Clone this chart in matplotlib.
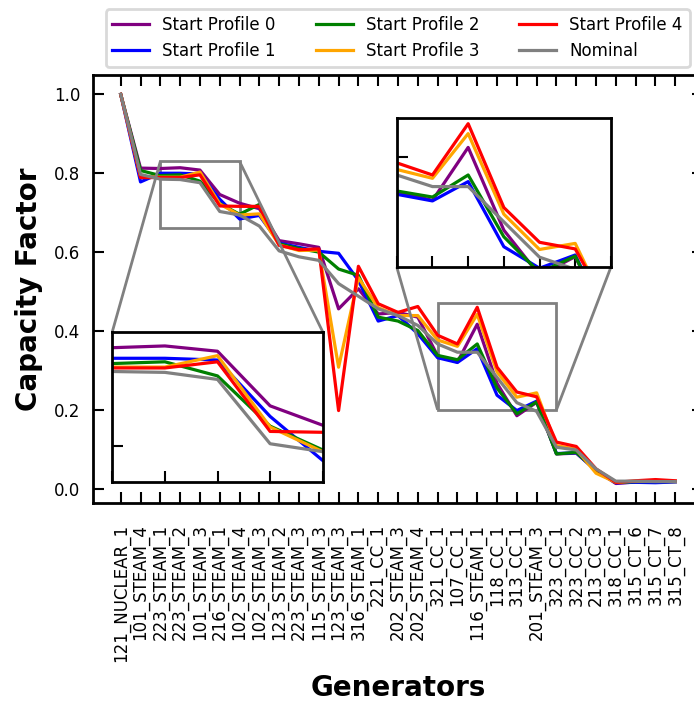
import numpy as np
import matplotlib
matplotlib.use("Agg")
import matplotlib.pyplot as plt
from mpl_toolkits.axes_grid1.inset_locator import mark_inset

generators = [
    "121_NUCLEAR_1", "101_STEAM_4", "223_STEAM_1", "223_STEAM_2", "101_STEAM_3",
    "216_STEAM_1", "102_STEAM_4", "102_STEAM_3", "123_STEAM_2", "223_STEAM_3",
    "115_STEAM_3", "123_STEAM_3", "316_STEAM_1", "221_CC_1", "202_STEAM_3",
    "202_STEAM_4", "321_CC_1", "107_CC_1", "116_STEAM_1", "118_CC_1",
    "313_CC_1", "201_STEAM_3", "323_CC_1", "323_CC_2", "213_CC_3",
    "318_CC_1", "315_CT_6", "315_CT_7", "315_CT_8",
]

# capacity factor per generator for each start profile
profile_0 = [1.0, 0.813, 0.812, 0.814, 0.808, 0.746, 0.724, 0.710, 0.629, 0.621,
             0.612, 0.456, 0.507, 0.443, 0.447, 0.435, 0.337, 0.321, 0.417, 0.267,
             0.185, 0.219, 0.088, 0.090, 0.046, 0.013, 0.017, 0.017, 0.018]
profile_1 = [1.0, 0.778, 0.800, 0.800, 0.798, 0.734, 0.684, 0.693, 0.623, 0.612,
             0.602, 0.597, 0.528, 0.425, 0.439, 0.393, 0.332, 0.320, 0.355, 0.237,
             0.198, 0.222, 0.089, 0.091, 0.046, 0.015, 0.016, 0.015, 0.017]
profile_2 = [1.0, 0.807, 0.794, 0.796, 0.780, 0.723, 0.696, 0.721, 0.621, 0.609,
             0.600, 0.557, 0.541, 0.435, 0.425, 0.401, 0.338, 0.327, 0.367, 0.255,
             0.190, 0.220, 0.088, 0.092, 0.046, 0.016, 0.018, 0.018, 0.018]
profile_3 = [1.0, 0.792, 0.790, 0.790, 0.803, 0.722, 0.694, 0.697, 0.618, 0.604,
             0.605, 0.308, 0.535, 0.459, 0.439, 0.439, 0.377, 0.361, 0.442, 0.296,
             0.232, 0.243, 0.109, 0.100, 0.039, 0.016, 0.019, 0.019, 0.018]
profile_4 = [1.0, 0.789, 0.789, 0.789, 0.796, 0.717, 0.716, 0.716, 0.617, 0.606,
             0.608, 0.198, 0.564, 0.469, 0.447, 0.462, 0.389, 0.367, 0.460, 0.308,
             0.245, 0.233, 0.118, 0.107, 0.050, 0.016, 0.020, 0.023, 0.020]
nominal = [1.0, 0.797, 0.785, 0.784, 0.776, 0.703, 0.694, 0.666, 0.603, 0.588,
           0.579, 0.520, 0.488, 0.456, 0.439, 0.414, 0.367, 0.346, 0.346, 0.282,
           0.218, 0.196, 0.105, 0.098, 0.050, 0.019, 0.019, 0.018, 0.018]

series = [
    ("Start Profile 0", profile_0, "purple"),
    ("Start Profile 1", profile_1, "blue"),
    ("Start Profile 2", profile_2, "green"),
    ("Start Profile 3", profile_3, "orange"),
    ("Start Profile 4", profile_4, "red"),
    ("Nominal", nominal, "gray"),
]

x = np.arange(len(generators))

fig = plt.figure(figsize=(6.94, 7.01), dpi=100)
ax = fig.add_axes([0.134, 0.2825, 0.879, 0.6106])

for label, vals, color in series:
    ax.plot(x, vals, color=color, lw=2.3, label=label)

ax.set_xticks(x)
ax.set_xticklabels(generators, rotation=90, fontsize=12)
ax.set_yticks([0.0, 0.2, 0.4, 0.6, 0.8, 1.0])
ax.tick_params(axis="y", labelsize=12, pad=9)
ax.tick_params(axis="x", pad=15)
ax.tick_params(direction="in", length=8, width=1.5, top=True, right=True)
for sp in ax.spines.values():
    sp.set_linewidth(2)

ax.set_xlabel("Generators", fontsize=20, fontweight="bold", labelpad=9)
ax.set_ylabel("Capacity Factor", fontsize=20, fontweight="bold", labelpad=8)

leg = fig.legend(loc="lower center", ncol=3, fontsize=12, handlelength=2.2,
                 columnspacing=2.4, bbox_to_anchor=(0.573, 0.8926),
                 framealpha=1, edgecolor="0.85")
leg.get_frame().set_linewidth(2)


def zoom_box(rect, xlim, ylim, ytick, locs):
    axins = ax.inset_axes(rect)
    for label, vals, color in series:
        axins.plot(x, vals, color=color, lw=2.3)
    axins.set_xlim(*xlim)
    axins.set_ylim(*ylim)
    axins.set_xticks(np.arange(xlim[0], xlim[1] + 1))
    axins.set_yticks([ytick])
    axins.set_xticklabels([])
    axins.set_yticklabels([])
    axins.tick_params(direction="in", length=8, width=1.5)
    for sp in axins.spines.values():
        sp.set_linewidth(2)
    mark_inset(ax, axins, loc1=locs[0], loc2=locs[1], fc="none",
               ec="gray", lw=2)
    return axins


zoom_box([0.0316, 0.0498, 0.345, 0.350], (2, 6), (0.66, 0.83), 0.70, (1, 2))
zoom_box([0.498, 0.551, 0.351, 0.348], (16, 22), (0.20, 0.47), 0.40, (3, 4))

fig.savefig("out.png", dpi=100)
